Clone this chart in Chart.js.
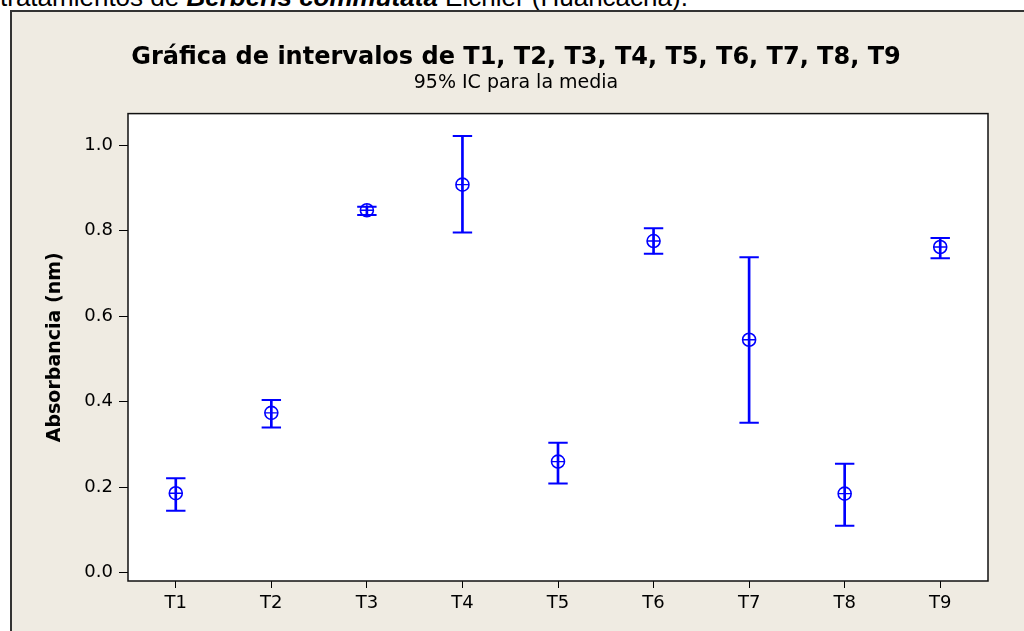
<!DOCTYPE html>
<html>
<head>
<meta charset="utf-8">
<script src="https://cdn.jsdelivr.net/npm/chart.js@4"></script>
<style>
  html, body { margin: 0; padding: 0; background: #fff; }
  body { width: 1024px; height: 631px; position: relative; overflow: hidden; }
  #doc-line {
    position: absolute; left: 0; top: -16px; white-space: nowrap;
    font-family: "Liberation Sans", Arial, sans-serif; font-size: 26px; line-height: 26px; color: #000;
  }
  #frame {
    position: absolute; left: 10px; top: 10px; width: 1100px; height: 700px;
    background: #efebe2; border-left: 2px solid #333; border-top: 2px solid #333;
  }
  #wrap { position: absolute; left: 0; top: 0; width: 1024px; height: 631px; }
</style>
</head>
<body>
<div id="doc-line">tratamientos de <b><i>Berberis commutata</i></b> Eichler (Huancacha).</div>
<div id="frame"></div>
<div id="wrap"><canvas id="chart"></canvas></div>
<script>
// --- Data ---
const categories = ['T1', 'T2', 'T3', 'T4', 'T5', 'T6', 'T7', 'T8', 'T9'];
const means      = [0.186, 0.374, 0.848, 0.908, 0.260, 0.776, 0.545, 0.185, 0.762];
const lower      = [0.145, 0.340, 0.837, 0.796, 0.209, 0.746, 0.351, 0.110, 0.736];
const upper      = [0.221, 0.404, 0.856, 1.022, 0.304, 0.806, 0.738, 0.255, 0.783];
const yTicks     = [0.0, 0.2, 0.4, 0.6, 0.8, 1.0];

// --- Style ---
const BLUE = '#0000ff';
const FONT = '"DejaVu Sans", Verdana, sans-serif';

// --- Plot frame: white fill + black border ---
const plotFrame = {
  id: 'plotFrame',
  beforeDatasetsDraw(chart) {
    const { ctx, chartArea: a } = chart;
    ctx.save();
    ctx.fillStyle = '#fff';
    ctx.fillRect(a.left, a.top, a.right - a.left, a.bottom - a.top);
    ctx.restore();
  },
  afterDraw(chart) {
    const { ctx, chartArea: a } = chart;
    ctx.save();
    ctx.strokeStyle = '#111';
    ctx.lineWidth = 1.5;
    ctx.strokeRect(a.left, a.top, a.right - a.left, a.bottom - a.top);
    ctx.restore();
  }
};

const pointSet = (data, style, radius, width) => ({
  type: 'line',
  data,
  showLine: false,
  pointStyle: style,
  pointRadius: radius,
  pointHoverRadius: radius,
  borderColor: BLUE,
  backgroundColor: 'rgba(0,0,0,0)',
  pointBorderWidth: width,
  order: 1,
});

new Chart(document.getElementById('chart'), {
  type: 'bar',
  data: {
    labels: categories,
    datasets: [
      {
        data: categories.map((_, i) => [lower[i], upper[i]]),
        backgroundColor: BLUE,
        borderWidth: 0,
        barThickness: 2,
        order: 2,
      },
      pointSet(upper, 'line', 9.7, 2),
      pointSet(lower, 'line', 9.7, 2),
      pointSet(means, 'circle', 6.5, 1.6),
      pointSet(means, 'cross', 6.5, 1.4),
    ]
  },
  options: {
    responsive: true,
    maintainAspectRatio: false,
    animation: false,
    events: [],
    layout: { padding: { left: 44, right: 36, top: 0, bottom: 0 } },
    plugins: {
      legend: { display: false },
      tooltip: { enabled: false },
      title: {
        display: true,
        text: 'Gráfica de intervalos de T1, T2, T3, T4, T5, T6, T7, T8, T9',
        color: '#000',
        font: { family: FONT, size: 24, weight: 'bold' },
        padding: { top: 43, bottom: 0 },
      },
      subtitle: {
        display: true,
        text: '95% IC para la media',
        color: '#000',
        font: { family: FONT, size: 19 },
        padding: { top: 0, bottom: 19 },
      }
    },
    scales: {
      x: {
        offset: true,
        grid: { display: true, offset: false, drawOnChartArea: false, drawTicks: true, tickLength: 7, color: '#000' },
        border: { display: false },
        ticks: { color: '#000', padding: 5, font: { family: FONT, size: 18 }, maxRotation: 0 },
        afterFit(scale) { scale.height = 50; },
      },
      y: {
        min: -0.0194,
        max: 1.0742,
        afterBuildTicks(scale) { scale.ticks = yTicks.map(v => ({ value: v })); },
        grid: { display: true, drawOnChartArea: false, drawTicks: true, tickLength: 9, color: '#000' },
        border: { display: false },
        ticks: {
          color: '#000', padding: 6, font: { family: FONT, size: 18 },
          callback: v => Number(v).toFixed(1),
        },
        title: {
          display: true,
          text: 'Absorbancia (nm)',
          color: '#000',
          font: { family: FONT, size: 19, weight: 'bold' },
          padding: { top: 0, bottom: 0 },
        },
        afterFit(scale) { scale.width = 84; },
      }
    }
  },
  plugins: [plotFrame]
});
</script>
</body>
</html>
